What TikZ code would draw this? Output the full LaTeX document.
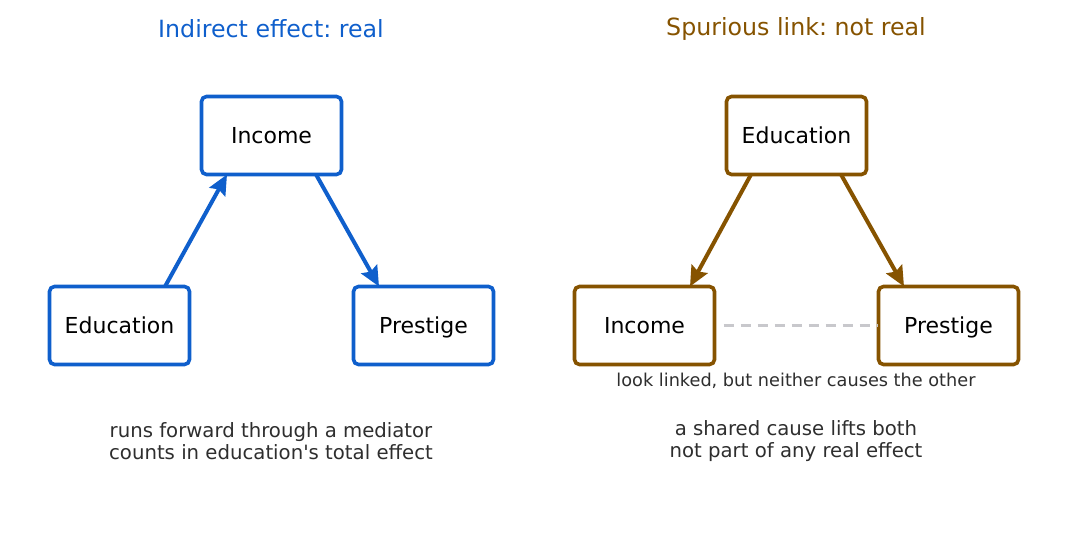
\documentclass[tikz,border=0pt]{standalone}
\usepackage{fontspec}
\setmainfont{DejaVu Sans}
\usetikzlibrary{arrows.meta}
\definecolor{cblue}{HTML}{0F5FCC}
\definecolor{cbrown}{HTML}{865300}
\definecolor{ctext}{HTML}{2E2E2E}
\definecolor{cdash}{HTML}{C8C8CC}
\frenchspacing
\begin{document}
\begin{tikzpicture}[x=1pt,y=-1pt,
  box/.style={draw,line width=3.6pt,rounded corners=5pt,fill=white,minimum width=140pt,minimum height=78pt,inner sep=0pt,outer sep=0pt,font=\fontsize{22}{26}\selectfont,text=black,text height=19.5pt,text depth=4.5pt},
  bbox/.style={box,draw=cblue},
  rbox/.style={box,draw=cbrown},
  arr/.style={line width=4pt,-{Stealth[length=20pt,width=18pt,inset=3pt]}},
  ttl/.style={font=\fontsize{23.7}{28}\selectfont},
  captxt/.style={font=\fontsize{19.7}{22}\selectfont,text=ctext,align=center},
  scaptxt/.style={font=\fontsize{17.7}{20}\selectfont,text=ctext}]
\useasboundingbox (0,0) rectangle (1068,543);
\node[ttl,text=cblue] (t1) at (271,29) {Indirect effect: real};
\node[ttl,text=cbrown] (t2) at (796,29) {Spurious link: not real};
% left
\node[bbox] (linc) at (271.5,135.5) {Income};
\node[bbox] (ledu) at (119.5,325.5) {Education};
\node[bbox] (lpre) at (423.5,325.5) {Prestige};
\draw[arr,cblue] ([xshift=45.5pt]ledu.north) -- ([xshift=-44.5pt]linc.south);
\draw[arr,cblue] ([xshift=44.5pt]linc.south) -- ([xshift=-44.5pt]lpre.north);
\node[captxt] (c1) at (271,441) {runs forward through a mediator\\counts in education\textquotesingle s total effect};
% right
\node[rbox] (redu) at (796.5,135.5) {Education};
\node[rbox] (rinc) at (644.5,325.5) {Income};
\node[rbox] (rpre) at (948.5,325.5) {Prestige};
\draw[line width=3pt,cdash,dash pattern=on 10pt off 7pt] ([xshift=9pt]rinc.east) -- ([xshift=-1.5pt]rpre.west);
\draw[arr,cbrown] ([xshift=-45.5pt]redu.south) -- ([xshift=45.5pt]rinc.north);
\draw[arr,cbrown] ([xshift=44.5pt]redu.south) -- ([xshift=-44.5pt]rpre.north);
\node[scaptxt] (c2) at (796,381) {look linked, but neither causes the other};
\node[captxt] (c3) at (796,441) {a shared cause lifts both\\not part of any real effect};
\end{tikzpicture}
\end{document}
